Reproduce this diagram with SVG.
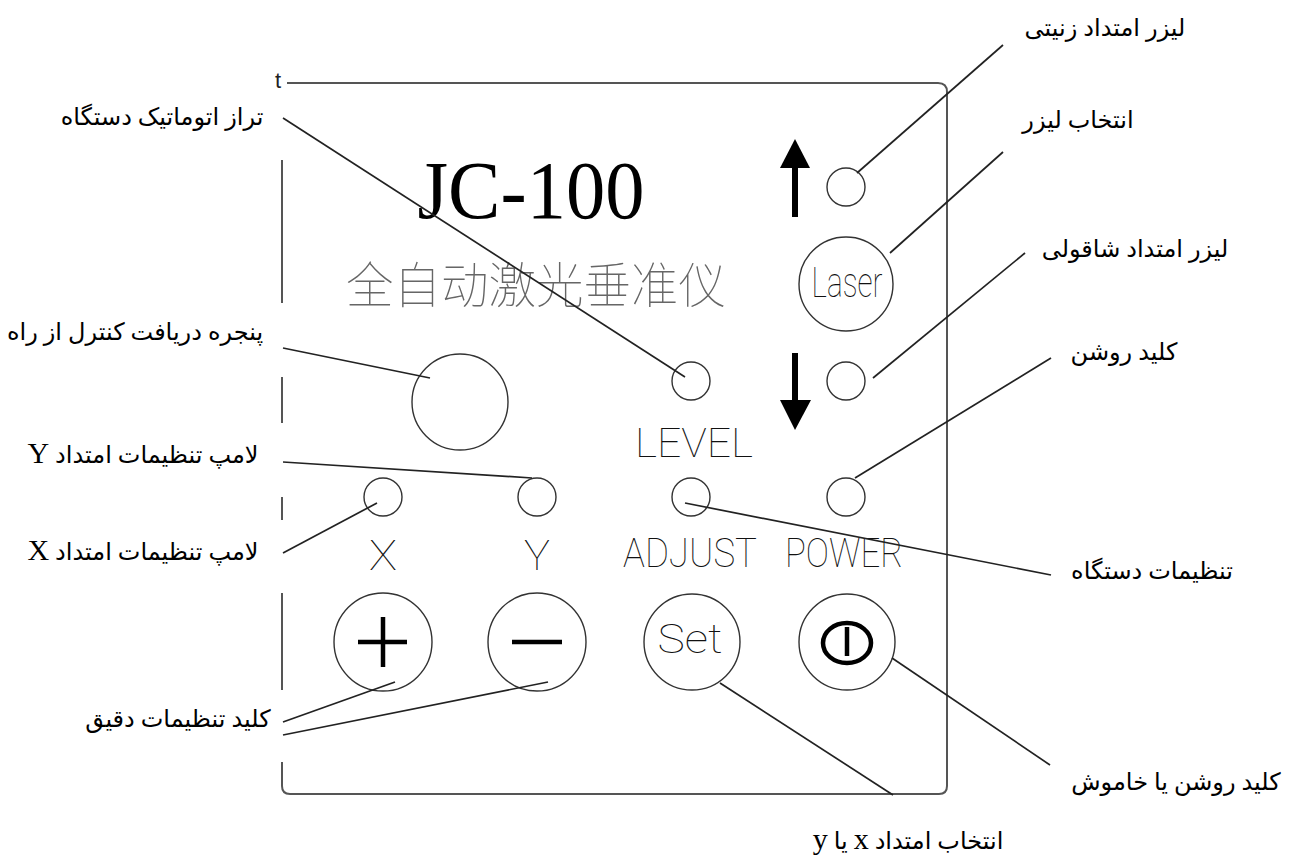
<svg xmlns="http://www.w3.org/2000/svg" width="1293" height="860" viewBox="0 0 1293 860">
<style>
.lbl{font-family:"Liberation Serif","DejaVu Sans",serif;font-size:24px;fill:#000;text-anchor:middle;direction:rtl;unicode-bidi:embed}
.lat{font-family:"Liberation Serif",serif;font-size:30px}
.pt{font-family:"Roboto","Liberation Sans",sans-serif;font-weight:100;fill:#111;text-anchor:middle}
.ring{fill:none;stroke:#333;stroke-width:1.4}
.border{fill:none;stroke:#555;stroke-width:2}
.con line{stroke:#222;stroke-width:1.7}
</style>
<rect width="1293" height="860" fill="#fff"/>
<g id="panel">
<text x="278" y="88" font-family="Liberation Sans,sans-serif" font-size="22" fill="#222" text-anchor="middle">t</text>
<path class="border" d="M287 83 H938 Q947 83 947 92 V786 Q947 794 939 794 H290 Q282 794 282 786 V762"/>
<path class="border" d="M282 160 V303 M282 377 V423 M282 497 V520 M282 593 V690"/>
</g>
<g id="title"><text x="531" y="218" font-family="Liberation Serif,serif" font-size="82" text-anchor="middle" textLength="227" lengthAdjust="spacingAndGlyphs">JC-100</text></g>
<g id="subtitle"><text x="536" y="303" font-family="Noto Sans CJK SC,sans-serif" font-size="49" font-weight="100" fill="#666" text-anchor="middle" textLength="380" lengthAdjust="spacingAndGlyphs">全自动激光垂准仪</text></g>
<g id="arrow-up"><polygon points="795,139 810,168 780,168" fill="#000"/><rect x="792" y="166" width="6" height="51" fill="#000"/></g>
<g id="arrow-down"><rect x="792" y="353" width="6" height="49" fill="#000"/><polygon points="780,400 811,400 795,430" fill="#000"/></g>
<g id="led-zenith"><circle class="ring" cx="846" cy="187" r="19"/></g>
<g id="btn-laser"><circle class="ring" cx="846" cy="284" r="47"/><text class="pt" x="847" y="297" font-size="42" textLength="71" lengthAdjust="spacingAndGlyphs">Laser</text></g>
<g id="led-plumb"><circle class="ring" cx="846" cy="381" r="19"/></g>
<g id="led-level"><circle class="ring" cx="691" cy="381" r="19"/><text class="pt" x="694" y="457" font-size="40" textLength="118" lengthAdjust="spacingAndGlyphs">LEVEL</text></g>
<g id="remote-window"><circle class="ring" cx="460" cy="402" r="48"/></g>
<g id="led-x"><circle class="ring" cx="383" cy="497" r="19"/><text class="pt" x="383" y="570" font-size="42" textLength="28" lengthAdjust="spacingAndGlyphs">X</text></g>
<g id="led-y"><circle class="ring" cx="537" cy="497" r="19"/><text class="pt" x="537" y="570" font-size="42" textLength="26" lengthAdjust="spacingAndGlyphs">Y</text></g>
<g id="led-adjust"><circle class="ring" cx="691" cy="497" r="19"/><text class="pt" x="690" y="567" font-size="40" textLength="134" lengthAdjust="spacingAndGlyphs">ADJUST</text></g>
<g id="led-power"><circle class="ring" cx="846" cy="497" r="19"/><text class="pt" x="844" y="567" font-size="40" textLength="118" lengthAdjust="spacingAndGlyphs">POWER</text></g>
<g id="btn-plus"><circle class="ring" cx="383" cy="642" r="49"/><path d="M358 642 H407 M383 617 V667" stroke="#000" stroke-width="4.5"/></g>
<g id="btn-minus"><circle class="ring" cx="537" cy="642" r="49"/><path d="M512 642 H562" stroke="#000" stroke-width="4.5"/></g>
<g id="btn-set"><circle class="ring" cx="692" cy="642" r="48"/><text class="pt" x="690" y="653" font-size="40" textLength="65" lengthAdjust="spacingAndGlyphs">Set</text></g>
<g id="btn-power"><circle class="ring" cx="847" cy="642" r="48"/><ellipse cx="847" cy="643" rx="24" ry="20" fill="none" stroke="#000" stroke-width="4.5"/><path d="M847 627 V656" stroke="#000" stroke-width="4.5"/></g>
<g id="connectors" class="con">
<line x1="1003" y1="45" x2="857" y2="173"/>
<line x1="1003" y1="152" x2="890" y2="253"/>
<line x1="1025" y1="253" x2="873" y2="378"/>
<line x1="1051" y1="358" x2="855" y2="478"/>
<line x1="1051" y1="575" x2="685" y2="503"/>
<line x1="1050" y1="765" x2="892" y2="658"/>
<line x1="893" y1="795" x2="720" y2="683"/>
<line x1="283" y1="722" x2="395" y2="682"/>
<line x1="283" y1="735" x2="548" y2="682"/>
<line x1="283" y1="553" x2="377" y2="503"/>
<line x1="283" y1="462" x2="532" y2="478"/>
<line x1="283" y1="348" x2="430" y2="378"/>
<line x1="283" y1="118" x2="685" y2="377"/>
</g>
<g id="label-zenith"><text class="lbl" x="1105" y="36">لیزر امتداد زنیتی</text></g>
<g id="label-laser-select"><text class="lbl" x="1078" y="128">انتخاب لیزر</text></g>
<g id="label-plumb"><text class="lbl" x="1135" y="257">لیزر امتداد شاقولی</text></g>
<g id="label-power-led"><text class="lbl" x="1124" y="360">کلید روشن</text></g>
<g id="label-adjust"><text class="lbl" x="1152" y="579">تنظیمات دستگاه</text></g>
<g id="label-power-btn"><text class="lbl" x="1176" y="790">کلید روشن یا خاموش</text></g>
<g id="label-set"><text class="lbl" x="908" y="849">انتخاب امتداد <tspan class="lat">x</tspan> یا <tspan class="lat">y</tspan></text></g>
<g id="label-fine"><text class="lbl" x="178" y="727">کلید تنظیمات دقیق</text></g>
<g id="label-lamp-x"><text class="lbl" x="143" y="560">لامپ تنظیمات امتداد <tspan class="lat">X</tspan></text></g>
<g id="label-lamp-y"><text class="lbl" x="143" y="463">لامپ تنظیمات امتداد <tspan class="lat">Y</tspan></text></g>
<g id="label-remote"><text class="lbl" x="135" y="340">پنجره دریافت کنترل از راه</text></g>
<g id="label-level"><text class="lbl" x="162" y="125">تراز اتوماتیک دستگاه</text></g>
</svg>
